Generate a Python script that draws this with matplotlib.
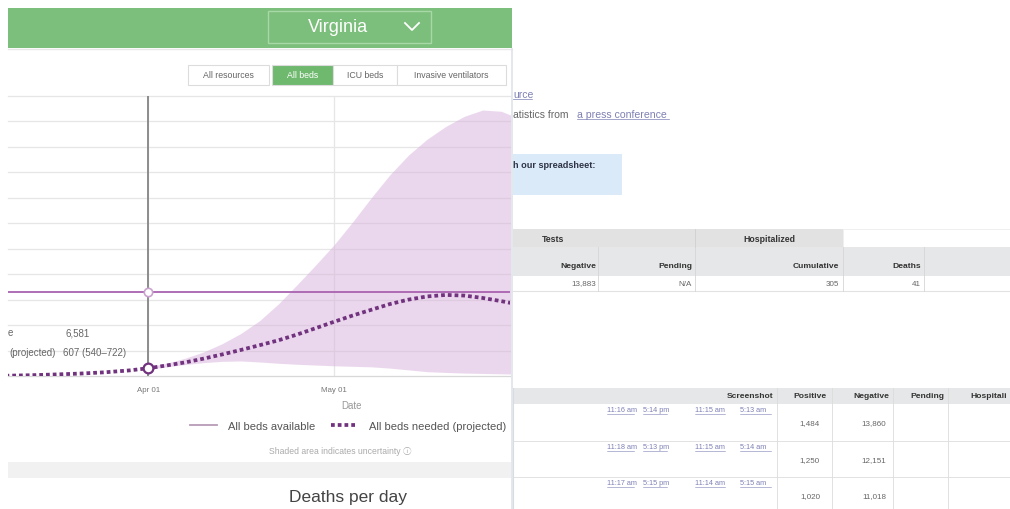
import numpy as np
import matplotlib
matplotlib.use("Agg")
import matplotlib.pyplot as plt
import matplotlib.dates as mdates
from matplotlib.patches import Rectangle
from matplotlib.lines import Line2D

plt.rcParams["font.family"] = ["Liberation Sans", "DejaVu Sans", "Noto Sans CJK SC"]

# ── data ─────────────────────────────────────────────────────────────────────
state = "Virginia"
buttons = ["All resources", "All beds", "ICU beds", "Invasive ventilators"]

need_dates = ["2020-03-09", "2020-03-13", "2020-03-17", "2020-03-21", "2020-03-25",
              "2020-03-29", "2020-04-01", "2020-04-04", "2020-04-07", "2020-04-10",
              "2020-04-13", "2020-04-16", "2020-04-19", "2020-04-22", "2020-04-25",
              "2020-04-28", "2020-05-01", "2020-05-04", "2020-05-07", "2020-05-10",
              "2020-05-13", "2020-05-16", "2020-05-19", "2020-05-22", "2020-05-25",
              "2020-05-28", "2020-05-30"]
beds_needed = [20, 60, 120, 190, 290, 440, 607, 830, 1070, 1370, 1700, 2050, 2420,
               2800, 3250, 3750, 4260, 4750, 5200, 5650, 6000, 6250, 6370, 6320,
               6130, 5880, 5700]

band_dates = need_dates[6:]
band_lower = [540, 720, 900, 1050, 1150, 1180, 1100, 1000, 920, 860, 800, 760, 720,
              620, 480, 340, 280, 230, 200, 170, 150]
band_upper = [722, 1000, 1400, 1900, 2550, 3350, 4350, 5650, 7150, 8700, 10300,
              12100, 14000, 15800, 17350, 18600, 19600, 20400, 20900, 20800, 20400]

beds_available = 6581
today = "2020-04-01"
tick_dates = ["2020-04-01", "2020-05-01"]
tick_labels = ["Apr 01", "May 01"]
tooltip_labels = ["e", "(projected)"]
tooltip_values = ["6,581", "607 (540\u2013722)"]

summary_groups = ["Tests", "Hospitalized"]
summary_cols = ["Negative", "Pending", "Cumulative", "Deaths"]
summary_vals = ["13,883", "N/A", "305", "41"]

daily_cols = ["Screenshot", "Positive", "Negative", "Pending", "Hospitali"]
daily_links = [["11:16 am", "5:14 pm", "11:15 am", "5:13 am"],
               ["11:18 am", "5:13 pm", "11:15 am", "5:14 am"],
               ["11:17 am", "5:15 pm", "11:14 am", "5:15 am"]]
daily_positive = ["1,484", "1,250", "1,020"]
daily_negative = ["13,860", "12,151", "11,018"]

# ── helpers (pixel coords, origin top-left) ──────────────────────────────────
W, H = 1010, 510


def fx(x):
    return x / W


def fy(y):
    return 1 - y / H


def box(fig, x0, y0, x1, y1, fc, ec="none", lw=0.8, z=0):
    fig.add_artist(Rectangle((fx(x0), fy(y1)), (x1 - x0) / W, (y1 - y0) / H,
                             transform=fig.transFigure, fc=fc, ec=ec, lw=lw, zorder=z))


def seg(fig, xs, ys, color, lw=0.8):
    fig.add_artist(Line2D([fx(v) for v in xs], [fy(v) for v in ys],
                          transform=fig.transFigure, color=color, lw=lw))


def txt(fig, x, y, s, **kw):
    kw.setdefault("va", "center")
    kw.setdefault("ha", "left")
    fig.text(fx(x), fy(y), s, **kw)


def main():
    fig = plt.figure(figsize=(W / 100, H / 100), dpi=100)
    fig.patch.set_facecolor("white")

    # ── header ───────────────────────────────────────────────────────────────
    box(fig, 8, 9, 512, 49, "#7cbe7b")
    box(fig, 268, 12, 431, 44, "none", ec="#a9d8a7", lw=1.0, z=2)
    txt(fig, 338, 28, state, ha="center", fontsize=13, color="white")
    seg(fig, [405, 412, 419], [24, 31, 24], "white", lw=1.3)
    seg(fig, [8, 512], [50, 50], "#e8e8e8", lw=1.0)

    bx = [188, 272, 333, 397, 506]
    for i, lab in enumerate(buttons):
        active = lab == "All beds"
        box(fig, bx[i], 66, bx[i + 1] - (3 if i == 0 else 0), 86,
            "#6fb96e" if active else "white", ec="#dcdcdc", lw=0.8)
        txt(fig, (bx[i] + bx[i + 1]) / 2 - (1.5 if i == 0 else 0), 76, lab,
            ha="center", fontsize=6.3, color="white" if active else "#666666")

    # ── chart ────────────────────────────────────────────────────────────────
    ax = fig.add_axes([fx(8), fy(377), 502 / W, 280 / H])
    ax.set_facecolor("none")
    nd = np.array(need_dates, dtype="datetime64[D]")
    bd = np.array(band_dates, dtype="datetime64[D]")
    t0 = mdates.date2num(np.datetime64(today))

    ax.fill_between(bd, band_lower, band_upper, color="#d7b1dc", alpha=0.5,
                    lw=0, zorder=2)
    ax.axhline(beds_available, color="#a862b0", lw=1.3, zorder=3)
    ax.axvline(t0, color="#8c8c8c", lw=1.4, zorder=3)
    ax.plot(nd, beds_needed, color="#71327e", lw=2.7, ls=(0, (1.0, 0.8)),
            dash_capstyle="butt", zorder=4)
    ax.plot([t0], [beds_available], "o", ms=6, mfc="white", mec="#c9a3cd",
            mew=1.2, zorder=5, clip_on=False)
    ax.plot([t0], [beds_needed[6]], "o", ms=7, mfc="white", mec="#71327e",
            mew=1.6, zorder=5, clip_on=False)

    ax.set_xlim(t0 - 22.6, t0 + 58.4)
    ax.set_ylim(0, 22000)
    ax.set_yticks(np.arange(0, 22001, 2000))
    ax.set_yticklabels([])
    ax.set_xticks(np.array(tick_dates, dtype="datetime64[D]"))
    ax.set_xticklabels(tick_labels)
    ax.tick_params(length=0, labelsize=5.7, labelcolor="#777777", pad=7)
    ax.grid(True, color="#e6e6e6", lw=0.9, zorder=1)
    for gl in ax.get_ygridlines():
        gl.set_clip_on(False)
    for side in ("top", "left", "right"):
        ax.spines[side].set_visible(False)
    ax.spines["bottom"].set_color("#d8d8d8")

    # tooltip fragment
    txt(fig, 13, 333, tooltip_labels[0], ha="right", fontsize=7, color="#666666")
    txt(fig, 66, 333, tooltip_values[0], fontsize=7, color="#666666")
    txt(fig, 56, 353, tooltip_labels[1], ha="right", fontsize=7, color="#666666")
    txt(fig, 63, 353, tooltip_values[1], fontsize=7, color="#666666")

    txt(fig, 352, 406, "Date", ha="center", fontsize=7, color="#999999")
    handles = [Line2D([], [], color="#b99bb6", lw=1.3),
               Line2D([], [], color="#71327e", lw=2.7, ls=(0, (1.0, 0.8)))]
    fig.legend(handles, ["All beds available", "All beds needed (projected)"],
               loc="center", bbox_to_anchor=(fx(348), fy(427)), ncol=2,
               frameon=False, fontsize=8, handlelength=2.4, handletextpad=1.0,
               columnspacing=1.4, labelcolor="#555555")
    txt(fig, 340, 452, "Shaded area indicates uncertainty \u24d8", ha="center",
        fontsize=6.2, color="#aaaaaa")

    box(fig, 8, 463, 511, 479, "#f1f1f1")
    txt(fig, 348, 498, "Deaths per day", ha="center", fontsize=12.5, color="#444444")
    seg(fig, [512, 512], [50, 510], "#dfe3e7", lw=1.2)

    # ── right page ───────────────────────────────────────────────────────────
    link = "#7f80b5"
    txt(fig, 513, 95, "urce", fontsize=7.5, color=link)
    seg(fig, [513, 532], [100, 100], link, lw=0.5)
    txt(fig, 513, 115, "atistics from", fontsize=7.5, color="#666666")
    txt(fig, 577, 115, "a press conference", fontsize=7.6, color=link)
    seg(fig, [577, 669], [120, 120], link, lw=0.5)
    box(fig, 513, 155, 622, 196, "#dbeaf8")
    txt(fig, 513, 166, "h our spreadsheet:", fontsize=6.6, fontweight="bold",
        color="#2d3346")

    # summary table
    box(fig, 513, 230, 843, 248, "#e2e2e2")
    box(fig, 843, 230, 1010, 248, "white", ec="#ececec", lw=0.6)
    box(fig, 513, 248, 1010, 277, "#e6e7e8")
    seg(fig, [513, 1010], [292, 292], "#e2e2e2", lw=0.8)
    for xs in (598, 695, 843, 924):
        seg(fig, [xs, xs], [248, 292], "#d6d6d6", lw=0.6)
    seg(fig, [695, 695], [230, 248], "#d0d0d0", lw=0.6)
    txt(fig, 542, 240, summary_groups[0], fontsize=6.3, fontweight="bold", color="#333333")
    txt(fig, 769, 240, summary_groups[1], ha="center", fontsize=6.3,
        fontweight="bold", color="#333333")
    col_right = [596, 692, 839, 921]
    for xr, lab, val in zip(col_right, summary_cols, summary_vals):
        txt(fig, xr, 267, lab, ha="right", fontsize=6.1, fontweight="bold", color="#333333")
        txt(fig, xr, 284, val, ha="right", fontsize=5.8, color="#666666")

    # daily table
    box(fig, 513, 389, 1010, 405, "#e6e7e8")
    seg(fig, [513, 513], [389, 510], "#d8dce0", lw=0.8)
    for xs in (777, 832, 893, 948):
        seg(fig, [xs, xs], [389, 510], "#dcdcdc", lw=0.6)
    for ys in (442, 478):
        seg(fig, [513, 1010], [ys, ys], "#dddddd", lw=0.6)
    hdr_right = [773, 826, 889, 944]
    for xr, lab in zip(hdr_right, daily_cols[:4]):
        txt(fig, xr, 397, lab, ha="right", fontsize=6.1, fontweight="bold", color="#333333")
    txt(fig, 970, 397, daily_cols[4], fontsize=6.1, fontweight="bold", color="#333333")

    link_x = [607, 643, 695, 740]
    link_w = [27, 24, 30, 31]
    for r, top in enumerate((405, 442, 478)):
        for lx, lw_, s in zip(link_x, link_w, daily_links[r]):
            txt(fig, lx, top + 6, s, fontsize=5.2, color=link)
            seg(fig, [lx, lx + lw_], [top + 10, top + 10], link, lw=0.4)
        txt(fig, 820, top + 19, daily_positive[r], ha="right", fontsize=5.8, color="#666666")
        txt(fig, 886, top + 19, daily_negative[r], ha="right", fontsize=5.8, color="#666666")

    fig.savefig("out.png", dpi=100, facecolor="white")


if __name__ == "__main__":
    main()
